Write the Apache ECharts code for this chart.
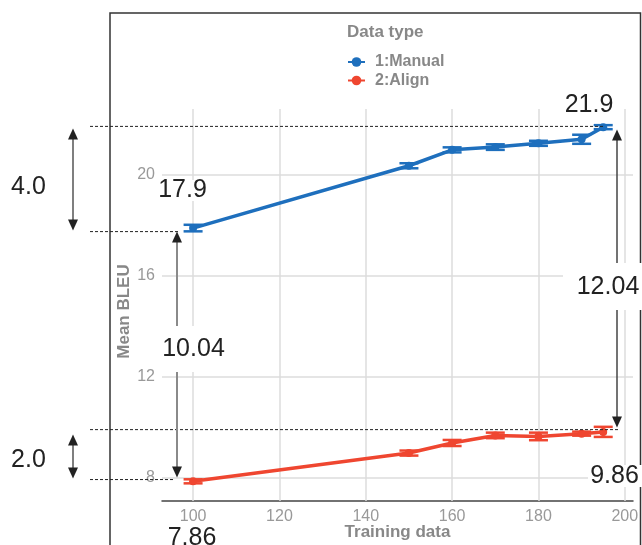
<!DOCTYPE html>
<html>
<head>
<meta charset="utf-8">
<script src="https://cdn.jsdelivr.net/npm/echarts@6/dist/echarts.min.js"></script>
<style>html,body{margin:0;padding:0;background:#fff}#c{width:642px;height:545px}</style>
</head>
<body>
<div id="c"></div>
<script>
// ---- data ----
const trainingData = [100, 150, 160, 170, 180, 190, 195];
const manualMean = [17.9, 20.37, 21.0, 21.11, 21.26, 21.42, 21.9];
const manualErr  = [0.13, 0.10, 0.10, 0.11, 0.10, 0.18, 0.08];
const alignMean  = [7.86, 8.98, 9.38, 9.68, 9.64, 9.75, 9.82];
const alignErr   = [0.08, 0.10, 0.12, 0.11, 0.15, 0.08, 0.20];
const seriesNames = ['1:Manual', '2:Align'];
const xTicks = [100, 120, 140, 160, 180, 200];
const yTicks = [8, 12, 16, 20];
// annotation levels (reference lines) and labels
const refLevels = [21.93, 17.76, 9.91, 7.93];
const levelLabels = ['21.9', '17.9', '9.86', '7.86'];
const diffLabels = ['4.0', '2.0', '10.04', '12.04'];

const BLUE = '#1e6fbd', RED = '#ef4630';
const chart = echarts.init(document.getElementById('c'), null, {renderer: 'canvas'});

function errData(mean, err) {
  return trainingData.map((x, i) => [x, mean[i] - err[i], mean[i] + err[i]]);
}
function errSeries(name, mean, err, color) {
  return {
    type: 'custom', name: name, z: 3,
    data: errData(mean, err),
    encode: {x: 0, y: [1, 2]},
    renderItem: function (params, api) {
      const x = api.value(0);
      const lo = api.coord([x, api.value(1)]);
      const hi = api.coord([x, api.value(2)]);
      const hw = 9.5;
      const st = {stroke: color, lineWidth: 2.5};
      return {type: 'group', children: [
        {type: 'line', shape: {x1: lo[0], y1: lo[1], x2: hi[0], y2: hi[1]}, style: st},
        {type: 'line', shape: {x1: lo[0] - hw, y1: lo[1], x2: lo[0] + hw, y2: lo[1]}, style: st},
        {type: 'line', shape: {x1: hi[0] - hw, y1: hi[1], x2: hi[0] + hw, y2: hi[1]}, style: st}
      ]};
    }
  };
}
const gridStyle = {color: '#dcdcdc', width: 1.5, type: 'solid'};
const gridLines = {
  silent: true, symbol: 'none', z: 1, label: {show: false},
  lineStyle: gridStyle, emphasis: {disabled: true},
  data: yTicks.map(v => ({yAxis: v})).concat(xTicks.map(v => ({xAxis: v})))
};

chart.setOption({
  animation: false,
  textStyle: {fontFamily: 'Liberation Sans, Arial, sans-serif'},
  grid: {left: 162, right: 9, top: 109, bottom: 44, containLabel: false, outerBoundsMode: 'none'},
  title: {text: 'Data type', left: 347, top: 24, padding: 0,
    textStyle: {fontSize: 17, fontWeight: 'bold', color: '#888'}},
  legend: {
    data: seriesNames, orient: 'vertical', left: 347, top: 54, padding: 0,
    itemWidth: 17, itemHeight: 12, itemGap: 2.5,
    textStyle: {fontSize: 16, fontWeight: 'bold', color: '#888', padding: [0, 0, 0, 5]}
  },
  xAxis: {
    type: 'value', min: 92.8, max: 201.9,
    axisLine: {show: true, lineStyle: {color: '#444', width: 1.5}},
    axisTick: {show: false, customValues: xTicks},
    axisLabel: {customValues: xTicks, fontSize: 16, color: '#999', margin: 8},
    splitLine: {show: false}
  },
  yAxis: {
    type: 'value', min: 7.08, max: 22.62,
    axisLine: {show: false},
    axisTick: {show: false, customValues: yTicks},
    axisLabel: {customValues: yTicks, fontSize: 16, color: '#999', margin: 7},
    splitLine: {show: false}
  },
  series: [
    {type: 'line', name: seriesNames[0], data: trainingData.map((x, i) => [x, manualMean[i]]),
      symbol: 'circle', symbolSize: 8, z: 4,
      lineStyle: {width: 3.5, color: BLUE}, itemStyle: {color: BLUE},
      markLine: gridLines},
    {type: 'line', name: seriesNames[1], data: trainingData.map((x, i) => [x, alignMean[i]]),
      symbol: 'circle', symbolSize: 8, z: 4,
      lineStyle: {width: 3.5, color: RED}, itemStyle: {color: RED}},
    errSeries('err-manual', manualMean, manualErr, BLUE),
    errSeries('err-align', alignMean, alignErr, RED)
  ]
});

// ---- annotations ----
const py = v => chart.convertToPixel({gridIndex: 0}, [100, v])[1];
const px = v => chart.convertToPixel({gridIndex: 0}, [v, 8])[0];
const yTop = py(refLevels[0]), yBlue = py(refLevels[1]), yRedTop = py(refLevels[2]), yRed = py(refLevels[3]);

function line(x1, y1, x2, y2, color, w, dash, z) {
  return {type: 'line', z: z || 15, silent: true, shape: {x1, y1, x2, y2},
    style: {stroke: color, lineWidth: w, lineDash: dash || null}};
}
function head(x, tipY, dir) { // dir 1: pointing down, -1: pointing up
  return {type: 'polygon', z: 16, silent: true,
    shape: {points: [[x, tipY], [x - 5, tipY - dir * 11], [x + 5, tipY - dir * 11]]},
    style: {fill: '#222'}};
}
function box(x, y, w, h) {
  return {type: 'rect', z: 20, silent: true, shape: {x, y, width: w, height: h}, style: {fill: '#fff'}};
}
function label(text, x, y) {
  return {type: 'text', z: 30, silent: true,
    style: {text, x, y, align: 'center', verticalAlign: 'middle',
      font: '25px "Liberation Sans", Arial, sans-serif', fill: '#222'}};
}
const dash = [3, 2];
const g = [
  // frame
  {type: 'rect', z: 10, silent: true, shape: {x: 110, y: 13, width: 530.5, height: 600},
    style: {fill: 'none', stroke: '#333', lineWidth: 1.5}},
  // axis titles
  {type: 'text', z: 30, silent: true, x: 124, y: 311.5, rotation: Math.PI / 2,
    style: {text: 'Mean BLEU', x: 0, y: 0, align: 'center', verticalAlign: 'middle',
      font: 'bold 17px "Liberation Sans", Arial, sans-serif', fill: '#888'}},
  {type: 'text', z: 30, silent: true,
    style: {text: 'Training data', x: 397.5, y: 532.5, align: 'center', verticalAlign: 'middle',
      font: 'bold 17px "Liberation Sans", Arial, sans-serif', fill: '#888'}},
  // dashed reference lines
  line(90, yTop, px(195), yTop, '#222', 1, dash),
  line(90, yBlue, 178, yBlue, '#222', 1, dash),
  line(90, yRedTop, px(198.5), yRedTop, '#222', 1, dash),
  line(90, yRed, 173, yRed, '#222', 1, dash),
  // left double arrows
  line(73, yTop + 8, 73, yBlue - 8, '#555', 1.5),
  head(73, yTop + 2, -1), head(73, yBlue - 1, 1),
  line(73, yRedTop + 10, 73, yRed - 8, '#555', 1.5),
  head(73, yRedTop + 5, -1), head(73, yRed - 1, 1),
  // 10.04 arrow
  line(177, yBlue + 8, 177, yRed - 8, '#8a8a8a', 2),
  head(177, yBlue, -1), head(177, yRed - 2, 1),
  // 12.04 arrow
  line(617, yTop + 8, 617, yRedTop - 8, '#444', 1.5),
  head(617, yTop + 3, -1), head(617, yRedTop - 2, 1),
  // white label boxes
  box(160, 326, 66, 46),
  box(563, 263, 79, 47),
  box(588, 465, 54, 22),
  box(156, 180, 53, 21),
  box(562, 94, 55, 21),
  box(165, 527, 55, 20),
  // labels
  label(levelLabels[0], 589, 105),
  label(levelLabels[1], 182.5, 190.5),
  label(levelLabels[2], 614.5, 476),
  label(levelLabels[3], 192, 538),
  label(diffLabels[0], 28.5, 187),
  label(diffLabels[1], 28.5, 460),
  label(diffLabels[2], 193.5, 349.5),
  label(diffLabels[3], 608, 287)
];
chart.setOption({graphic: g});
</script>
</body>
</html>
